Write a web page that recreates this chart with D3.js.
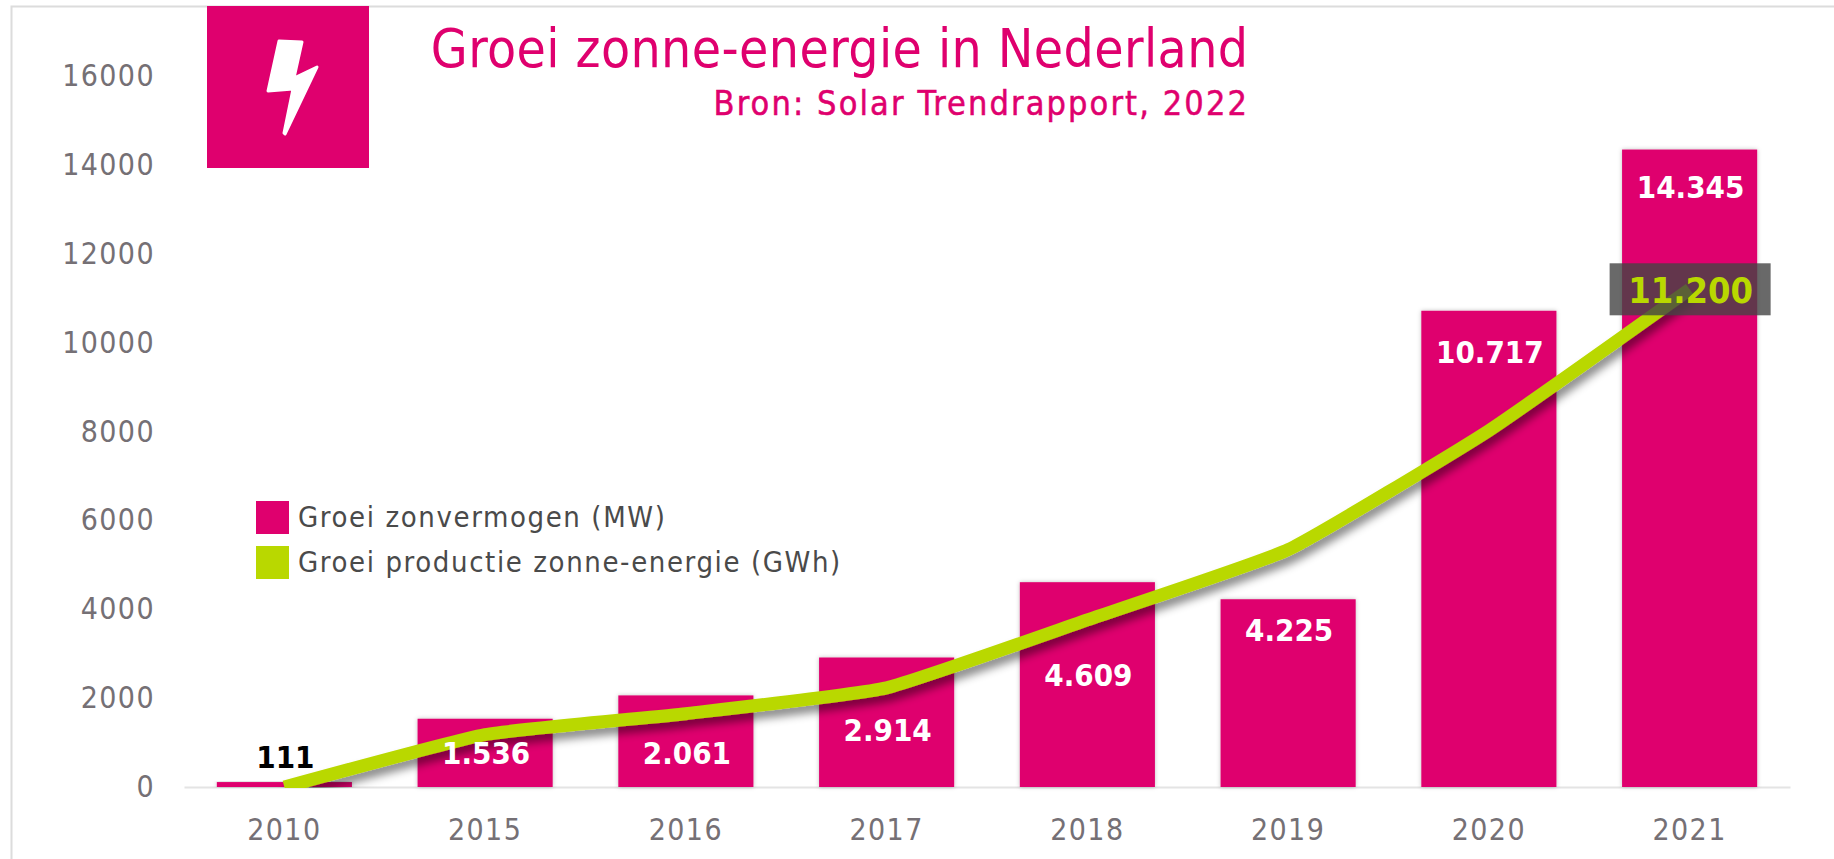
<!DOCTYPE html>
<html>
<head>
<meta charset="utf-8">
<script src="https://cdn.jsdelivr.net/npm/d3@7"></script>
<style>
    html, body { margin: 0; padding: 0; background: #fff; overflow: hidden; }
    text { font-family: "DejaVu Sans Condensed", "DejaVu Sans", sans-serif; }
</style>
</head>
<body>
<div id="svg_container"></div>
<script>
let years = ['2010', '2015', '2016', '2017', '2018', '2019', '2020', '2021'];
let capacityMW = [111, 1536, 2061, 2914, 4609, 4225, 10717, 14345];
let productionGWh = [0, 1180, 1650, 2230, 3760, 5340, 8020, 11200];
let capacityLabels = ['111', '1.536', '2.061', '2.914', '4.609', '4.225', '10.717', '14.345'];
let yTicks = [0, 2000, 4000, 6000, 8000, 10000, 12000, 14000, 16000];
let legendLabels = ['Groei zonvermogen (MW)', 'Groei productie zonne-energie (GWh)'];

document.addEventListener('DOMContentLoaded', function (e) {
    let width = 1834, height = 859;
    let pink = '#df006e', green = '#b9d800', grey = '#757075';

    let svg = d3.select('#svg_container').append('svg')
        .attr('width', width)
        .attr('height', height);

    let defs = svg.append('defs');
    let barShadow = defs.append('filter').attr('id', 'barShadow')
        .attr('x', '-10%').attr('y', '-10%').attr('width', '120%').attr('height', '120%');
    barShadow.append('feDropShadow').attr('dx', 0).attr('dy', 0).attr('stdDeviation', 2)
        .attr('flood-color', '#000').attr('flood-opacity', 0.25);
    let lineShadow = defs.append('filter').attr('id', 'lineShadow')
        .attr('filterUnits', 'userSpaceOnUse')
        .attr('x', 0).attr('y', 0).attr('width', width).attr('height', height);
    lineShadow.append('feDropShadow').attr('dx', 3).attr('dy', 7).attr('stdDeviation', 4)
        .attr('flood-color', '#000').attr('flood-opacity', 0.45);

    let x = d3.scaleBand().domain(years).range([184, 1790]).paddingInner(0.327).paddingOuter(0.1635);
    let y = d3.scaleLinear().domain([0, 16000]).range([787, 76]);

    // line stops flat on the axis at its first point
    defs.append('clipPath').attr('id', 'plotClip').append('rect')
        .attr('x', 0).attr('y', 0).attr('width', width).attr('height', y(0) + 1);

    // frame of the screenshot
    svg.append('path')
        .attr('d', 'M11.5,' + height + 'V6.5H' + width)
        .attr('fill', 'none')
        .attr('stroke', '#dcdcdc')
        .attr('stroke-width', 2);

    // logo block
    svg.append('rect').attr('x', 207).attr('y', 6).attr('width', 162).attr('height', 162).attr('fill', pink);
    svg.append('path')
        .attr('d', 'M279,41 L302,42 L294,78 L317,67 L285,134 L284,133 L293,89 L268,91 Z')
        .attr('fill', '#fff')
        .attr('stroke', '#fff')
        .attr('stroke-width', 3)
        .attr('stroke-linejoin', 'round');

    // title
    svg.append('text').attr('x', 1248.5).attr('y', 67).attr('text-anchor', 'end')
        .attr('font-size', 53).attr('letter-spacing', 0.4).attr('fill', pink)
        .text('Groei zonne-energie in Nederland');
    svg.append('text').attr('x', 1249).attr('y', 115).attr('text-anchor', 'end')
        .attr('font-size', 34).attr('letter-spacing', 2.1).attr('fill', pink)
        .attr('stroke', pink).attr('stroke-width', 0.5)
        .text('Bron: Solar Trendrapport, 2022');

    // axes
    let yAxis = d3.axisLeft(y).tickValues(yTicks).tickSize(0).tickPadding(0).tickFormat(d3.format('d'));
    let yG = svg.append('g').attr('transform', 'translate(155,0)').call(yAxis);
    yG.select('.domain').remove();
    yG.selectAll('text').attr('font-size', 30).attr('letter-spacing', 1.4).attr('fill', grey);

    let xAxis = d3.axisBottom(x).tickSize(0).tickPadding(32);
    let xG = svg.append('g').attr('transform', 'translate(0,787)').call(xAxis);
    xG.select('.domain').attr('stroke', '#e4e4e4').attr('stroke-width', 2);
    xG.selectAll('text').attr('font-size', 30).attr('letter-spacing', 1.4).attr('fill', grey);

    // bars
    svg.append('g').selectAll('rect').data(years).join('rect')
        .attr('x', d => x(d))
        .attr('width', x.bandwidth())
        .attr('y', (d, i) => y(capacityMW[i]))
        .attr('height', (d, i) => y(0) - y(capacityMW[i]))
        .attr('fill', pink)
        .attr('filter', 'url(#barShadow)');

    // production line
    let line = d3.line()
        .x((d, i) => x(years[i]) + x.bandwidth() / 2)
        .y(d => y(d))
        .curve(d3.curveCardinal.tension(0.6));
    svg.append('g')
        .attr('clip-path', 'url(#plotClip)')
        .append('path')
        .attr('d', line(productionGWh))
        .attr('fill', 'none')
        .attr('stroke', green)
        .attr('stroke-width', 13)
        .attr('filter', 'url(#lineShadow)');

    // bar labels were moved by hand in the original to stay clear of the line
    let labelDrop = [-14, 45, 69, 83, 104, 42, 52, 48];
    svg.append('g').selectAll('text').data(years).join('text')
        .attr('x', d => x(d) + x.bandwidth() / 2 + 1)
        .attr('y', (d, i) => y(capacityMW[i]) + labelDrop[i])
        .attr('text-anchor', 'middle')
        .attr('font-size', 31)
        .attr('font-weight', 'bold')
        .attr('fill', (d, i) => i === 0 ? '#000' : '#fff')
        .text((d, i) => capacityLabels[i]);

    // label of the last line point
    let lastX = x(years[7]) + x.bandwidth() / 2;
    let lastY = y(productionGWh[7]);
    svg.append('rect')
        .attr('x', lastX - 80).attr('y', lastY - 26)
        .attr('width', 161).attr('height', 52)
        .attr('fill', '#444').attr('fill-opacity', 0.8);
    svg.append('text')
        .attr('x', lastX + 1).attr('y', lastY + 14)
        .attr('text-anchor', 'middle')
        .attr('font-size', 36)
        .attr('font-weight', 'bold')
        .attr('fill', green)
        .text('11.200');

    // legend
    let legend = svg.append('g').selectAll('g').data(legendLabels).join('g')
        .attr('transform', (d, i) => 'translate(256,' + (501 + i * 45) + ')');
    legend.append('rect').attr('width', 33).attr('height', 33)
        .attr('fill', (d, i) => i === 0 ? pink : green);
    legend.append('text').attr('x', 42).attr('y', 26)
        .attr('font-size', 29).attr('letter-spacing', 1.6).attr('fill', '#4a4a4a').text(d => d);
});
</script>
</body>
</html>
